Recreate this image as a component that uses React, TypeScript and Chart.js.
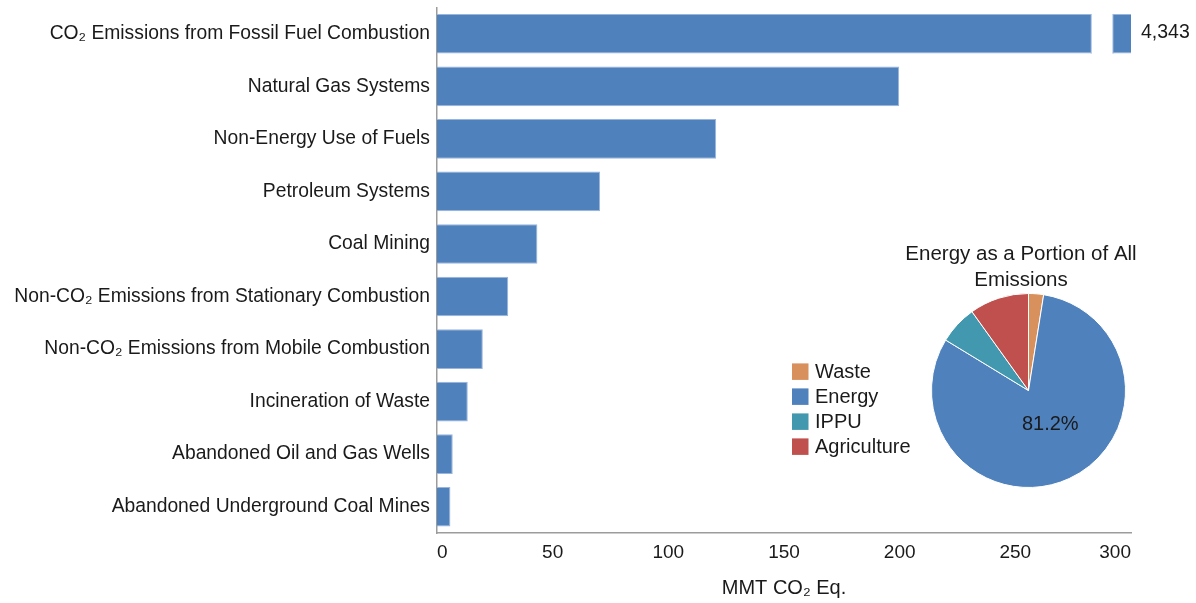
import { useEffect, useRef } from "react";
import { Chart, registerables } from "chart.js";

Chart.register(...registerables);

// ---------- data ----------
const categories = [
  "CO₂ Emissions from Fossil Fuel Combustion",
  "Natural Gas Systems",
  "Non-Energy Use of Fuels",
  "Petroleum Systems",
  "Coal Mining",
  "Non-CO₂ Emissions from Stationary Combustion",
  "Non-CO₂ Emissions from Mobile Combustion",
  "Incineration of Waste",
  "Abandoned Oil and Gas Wells",
  "Abandoned Underground Coal Mines",
];
const emissions = [4343, 199.8, 120.7, 70.5, 43.4, 30.8, 19.8, 13.3, 6.8, 5.8];
const xMin = 0;
const xMax = 300;
const xStep = 50;
const axisBreak = [283, 292];
const axisTitle = "MMT CO₂ Eq.";

const sectors = ["Waste", "Energy", "IPPU", "Agriculture"];
const sectorShares = [2.5, 81.2, 6.4, 9.9];
const sectorColors = ["#D8905C", "#4F81BD", "#4298AE", "#C0504D"];
const pieTitle = ["Energy as a Portion of All", "Emissions"];
const highlightedSector = "Energy";

// ---------- styles ----------
const FONT = "'Liberation Sans', Arial, sans-serif";
const TEXT = "#1a1a1a";
const BAR_FILL = "#4F81BD";
const BAR_EDGE = "#9AB5DB";
const AXIS = "#9c9c9c";

const font = (size: number) => ({ family: FONT, size, lineHeight: 1.2 });

const breakPlugin = {
  id: "axisBreak",
  afterDatasetsDraw(chart: any) {
    const xs = chart.scales.x;
    const meta = chart.getDatasetMeta(0);
    const ctx = chart.ctx;
    emissions.forEach((v, i) => {
      if (v <= xs.max) return;
      const bar = meta.data[i];
      const { y, height } = bar.getProps(["y", "height"], true);
      const x0 = xs.getPixelForValue(axisBreak[0]);
      const x1 = xs.getPixelForValue(axisBreak[1]);
      ctx.save();
      ctx.fillStyle = BAR_EDGE;
      ctx.fillRect(x0 - 1, y - height / 2, x1 - x0 + 2, height);
      ctx.fillStyle = "#ffffff";
      ctx.fillRect(x0, y - height / 2 - 1, x1 - x0, height + 2);
      ctx.fillStyle = TEXT;
      ctx.font = `19.5px ${FONT}`;
      ctx.textAlign = "left";
      ctx.textBaseline = "middle";
      ctx.fillText(v.toLocaleString("en-US"), chart.chartArea.right + 10, y - 1);
      ctx.restore();
    });
  },
};

const pieDecor = {
  id: "pieDecor",
  afterDraw(chart: any) {
    const ctx = chart.ctx;
    const ca = chart.chartArea;
    const cx = (ca.left + ca.right) / 2;
    ctx.save();
    ctx.fillStyle = TEXT;
    // title
    ctx.font = `20.5px ${FONT}`;
    ctx.textAlign = "center";
    ctx.textBaseline = "middle";
    pieTitle.forEach((line, i) => {
      ctx.fillText(line, cx - 7.5, 18 + i * 26);
    });
    // legend
    ctx.font = `20px ${FONT}`;
    ctx.textAlign = "left";
    sectors.forEach((name, i) => {
      const yc = 135.7 + i * 25;
      ctx.fillStyle = sectorColors[i];
      ctx.fillRect(12, yc - 8.3, 16.5, 16.5);
      ctx.fillStyle = TEXT;
      ctx.fillText(name, 35, yc + 0.5);
    });
    // percentage label on the highlighted slice
    const idx = sectors.indexOf(highlightedSector);
    const total = sectorShares.reduce((a, b) => a + b, 0);
    const arc = chart.getDatasetMeta(0).data[idx];
    const { x, y, startAngle, endAngle, outerRadius } = arc.getProps(
      ["x", "y", "startAngle", "endAngle", "outerRadius"],
      true
    );
    const mid = (startAngle + endAngle) / 2 - 0.13;
    const r = outerRadius * 0.42;
    ctx.textAlign = "center";
    ctx.fillText(
      `${((sectorShares[idx] / total) * 100).toFixed(1)}%`,
      x + Math.cos(mid) * r,
      y + Math.sin(mid) * r
    );
    ctx.restore();
  },
};

export default function App() {
  const barRef = useRef<HTMLCanvasElement | null>(null);
  const pieRef = useRef<HTMLCanvasElement | null>(null);

  useEffect(() => {
    if (!barRef.current || !pieRef.current) return;
    const bar = new Chart(barRef.current, {
      type: "bar",
      data: {
        labels: categories,
        datasets: [
          {
            data: emissions,
            backgroundColor: BAR_FILL,
            borderColor: BAR_EDGE,
            borderWidth: 1,
            barPercentage: 0.755,
            categoryPercentage: 1,
          },
        ],
      },
      options: {
        indexAxis: "y",
        animation: false,
        responsive: false,
        layout: { padding: { left: 0, top: 7.5, right: 65, bottom: 0 } },
        plugins: { legend: { display: false }, tooltip: { enabled: false } },
        scales: {
          x: {
            type: "linear",
            min: xMin,
            max: xMax,
            ticks: { stepSize: xStep, align: "inner", font: font(19), color: TEXT, padding: 8.6 },
            grid: { display: false, drawTicks: false },
            border: { display: true, color: AXIS, width: 1.5 },
            title: {
              display: true,
              text: axisTitle,
              font: font(20),
              color: TEXT,
              padding: { top: 0, bottom: 3 },
            },
            afterFit: (s: any) => {
              s.height = 70;
              s.paddingLeft = 0;
              s.paddingRight = 0;
            },
          },
          y: {
            ticks: { font: font(19.3), color: TEXT, padding: 7, autoSkip: false },
            grid: { display: false, drawTicks: false },
            border: { display: true, color: AXIS, width: 1.5 },
            afterFit: (s: any) => {
              s.width = 437;
              s.paddingTop = 0;
              s.paddingBottom = 0;
            },
          },
        },
      } as any,
      plugins: [breakPlugin],
    });

    const pie = new Chart(pieRef.current, {
      type: "pie",
      data: {
        labels: sectors,
        datasets: [
          {
            data: sectorShares,
            backgroundColor: sectorColors,
            borderColor: "#ffffff",
            borderWidth: 1,
          },
        ],
      },
      options: {
        animation: false,
        responsive: false,
        layout: { padding: { left: 151, right: 34, top: 57, bottom: 8 } },
        plugins: { legend: { display: false }, tooltip: { enabled: false }, title: { display: false } },
      } as any,
      plugins: [pieDecor],
    });

    return () => {
      bar.destroy();
      pie.destroy();
    };
  }, []);

  return (
    <div style={{ position: "fixed", left: 0, top: 0, width: 1196, height: 603, background: "#fff" }}>
      <canvas ref={barRef} width={1196} height={603} style={{ position: "absolute", left: 0, top: 0 }} />
      <canvas ref={pieRef} width={380} height={260} style={{ position: "absolute", left: 780, top: 236 }} />
    </div>
  );
}
